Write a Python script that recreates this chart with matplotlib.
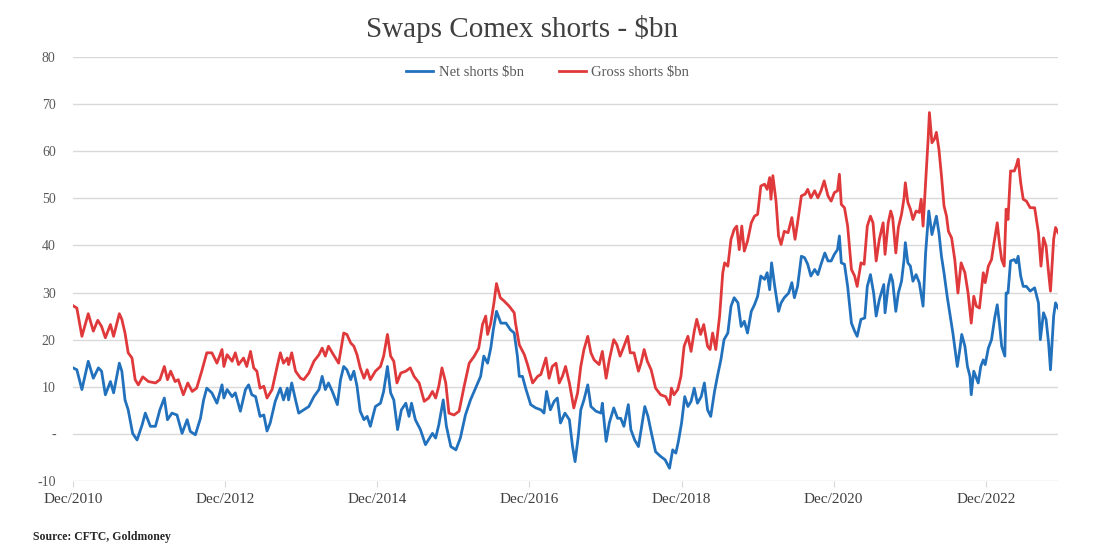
import matplotlib
matplotlib.use("Agg")
import matplotlib.pyplot as plt

# months since Dec/2010 and values ($bn)
net_t = [0.0, 0.6, 1.4, 2.4, 3.2, 4.0, 4.5, 5.1, 5.9, 6.4, 7.3, 7.7, 8.2, 8.7, 9.4, 10.1,
         10.9, 11.4, 12.2, 13.0, 13.7, 14.4, 14.9, 15.6, 16.4, 17.2, 18.0, 18.5, 19.3, 20.1,
         20.6, 21.1, 21.9, 22.7, 23.5, 23.8, 24.3, 25.1, 25.6, 26.4, 27.2, 27.7, 28.2, 28.8,
         29.5, 30.1, 30.6, 31.1, 31.9, 32.7, 33.2, 33.8, 34.0, 34.5, 35.1, 35.6, 36.4, 37.2,
         38.0, 38.8, 39.3, 39.8, 40.3, 40.9, 41.7, 42.2, 42.7, 43.2, 43.8, 44.3, 44.8, 45.3,
         45.9, 46.4, 46.9, 47.7, 48.5, 49.0, 49.6, 50.1, 50.6, 51.2, 51.8, 52.5, 53.0, 53.4,
         54.0, 54.8, 55.6, 56.7, 57.2, 57.7, 58.4, 58.9, 59.6, 60.4, 61.1, 61.9, 62.7, 63.5,
         64.3, 64.8, 65.4, 65.9, 66.3, 66.8, 67.5, 68.3, 69.0, 69.6, 70.1, 70.4, 70.9, 71.4,
         72.2, 73.0, 73.8, 74.3, 74.7, 75.3, 75.9, 76.4, 76.9, 77.6, 78.3, 78.8, 79.2, 79.7,
         80.1, 80.6, 81.2, 81.7, 82.5, 83.3, 83.5, 84.1, 84.6, 85.3, 85.9, 86.4, 86.9, 87.6,
         88.0, 88.6, 89.2, 89.7, 90.2, 90.7, 91.3, 91.9, 92.7, 93.4, 94.1, 94.6, 95.1, 95.5,
         96.0, 96.5, 97.0, 97.5, 98.0, 98.5, 99.1, 99.6, 100.1, 100.6, 101.2, 101.7, 102.2,
         102.7, 103.3, 103.8, 104.3, 104.9, 105.4, 105.9, 106.4, 107.0, 107.5, 108.0, 108.5,
         109.1, 109.5, 109.9, 110.2, 110.7, 111.3, 111.7, 112.2, 112.9, 113.4, 113.8, 114.3,
         114.9, 115.4, 115.9, 116.4, 117.0, 117.5, 118.0, 118.6, 119.1, 119.6, 120.1, 120.6,
         120.9, 121.2, 121.7, 122.2, 122.8, 123.3, 123.7, 124.3, 124.9, 125.3, 125.8, 126.3,
         126.7, 127.2, 127.9, 128.1, 128.6, 129.0, 129.3, 129.8, 130.2, 130.7, 131.1, 131.3,
         131.7, 132.1, 132.5, 133.0, 133.5, 134.1, 134.5, 135.0, 135.5, 135.9, 136.2, 136.6,
         137.0, 137.4, 137.9, 138.3, 138.8, 139.5, 139.9, 140.2, 140.7, 141.1, 141.5, 141.7,
         142.1, 142.8, 143.2, 143.6, 143.9, 144.4, 144.9, 145.4, 145.8, 146.2, 146.5, 147.0,
         147.2, 147.5, 147.9, 148.5, 148.8, 149.1, 149.5, 149.9, 150.4, 151.0, 151.7, 152.3,
         152.6, 153.1, 153.5, 153.9, 154.2, 154.7, 155.0, 155.4]
net_v = [14.0, 13.6, 9.4, 15.4, 11.8, 14.0, 13.3, 8.3, 11.1, 8.7, 15.0, 13.3, 7.2, 5.1, 0.1, -1.3,
         1.9, 4.4, 1.6, 1.6, 5.1, 7.6, 3.0, 4.4, 4.0, 0.1, 3.0, 0.5, -0.2, 3.3,
         7.2, 9.7, 8.7, 6.5, 10.4, 7.6, 9.4, 7.9, 8.7, 4.8, 9.4, 10.4, 8.3, 7.9,
         3.7, 4.0, 0.6, 2.3, 6.9, 9.7, 7.2, 9.7, 7.2, 10.8, 7.2, 4.4, 5.1, 5.8,
         7.9, 9.4, 12.2, 9.4, 10.8, 9.0, 6.2, 11.5, 14.3, 13.6, 11.5, 13.3, 10.1, 4.8,
         3.0, 3.7, 1.6, 5.8, 6.5, 9.0, 14.3, 8.7, 7.2, 0.9, 5.1, 6.5, 3.7, 6.5,
         3.0, 0.9, -2.3, 0.1, -0.9, 1.9, 7.2, 1.6, -2.7, -3.4, -0.9, 4.0, 7.2, 9.7,
         12.2, 16.5, 15.0, 18.2, 22.1, 26.0, 23.5, 23.5, 22.1, 21.4, 16.5, 12.2, 12.2, 9.7,
         6.2, 5.5, 5.1, 4.4, 9.0, 5.1, 6.9, 7.6, 2.3, 4.4, 3.0, -2.7, -5.9, -0.6,
         5.1, 7.2, 10.4, 5.8, 4.8, 4.4, 6.5, -1.6, 2.3, 5.5, 3.3, 3.3, 1.6, 6.2,
         0.9, -1.3, -2.7, 1.6, 5.8, 3.7, -0.2, -3.8, -4.8, -5.5, -7.3, -3.4, -4.1, -1.6,
         2.3, 7.9, 5.8, 6.9, 9.7, 6.5, 7.9, 10.8, 5.1, 3.7, 9.0, 12.5, 15.7,
         20.0, 21.4, 27.1, 28.9, 27.8, 22.8, 23.9, 21.4, 26.0, 27.4, 29.2, 33.5,
         32.8, 34.2, 30.6, 36.3, 31.3, 26.0, 27.8, 28.9, 29.9, 32.1, 28.9, 31.3,
         37.7, 37.4, 36.0, 33.5, 34.9, 33.8, 36.0, 38.4, 36.7, 36.7, 38.1, 39.1,
         42.0, 36.3, 36.0, 31.3, 23.5, 21.8, 20.7, 24.3, 24.6, 31.3, 33.8, 29.9,
         25.0, 28.5, 31.7, 25.7, 31.3, 33.8, 32.4, 26.0, 29.9, 32.4, 37.0, 40.6,
         36.3, 35.6, 32.4, 33.8, 32.1, 27.1, 38.4, 47.3, 42.3, 44.5, 46.2, 42.7,
         37.7, 34.2, 29.2, 25.7, 21.4, 14.3, 17.9, 21.1, 18.6, 14.3, 12.2, 8.3,
         13.3, 10.8, 14.3, 15.7, 14.7, 18.2, 20.0, 24.6, 27.4, 22.8, 18.6, 16.5,
         29.9, 29.9, 36.7, 37.0, 36.3, 37.7, 33.5, 31.3, 31.3, 30.3, 31.0, 27.8,
         20.0, 25.7, 24.3, 19.3, 13.6, 25.0, 27.8, 26.7]

gross_t = [0.0, 0.6, 1.4, 2.4, 3.2, 3.9, 4.5, 5.1, 5.9, 6.4, 7.3, 7.7, 8.2, 8.7, 9.3, 9.8,
           10.3, 11.0, 11.9, 13.0, 13.7, 14.4, 14.9, 15.4, 16.1, 16.6, 17.4, 18.1, 18.8, 19.5,
           20.3, 21.1, 21.9, 22.7, 23.5, 23.8, 24.3, 25.1, 25.6, 26.1, 26.9, 27.4, 28.0, 28.5,
           29.0, 29.5, 30.1, 30.6, 31.4, 32.2, 32.7, 33.2, 33.8, 34.0, 34.5, 35.1, 35.9, 36.4,
           37.2, 38.0, 38.8, 39.3, 39.8, 40.3, 40.9, 41.4, 41.9, 42.7, 43.2, 43.8, 44.3, 44.8,
           45.3, 45.9, 46.4, 46.9, 47.7, 48.5, 49.0, 49.6, 50.1, 50.6, 51.1, 51.7, 52.5, 53.2,
           53.8, 54.6, 55.4, 56.1, 56.7, 57.2, 57.7, 58.2, 58.8, 59.3, 60.1, 60.9, 61.7, 62.5,
           63.3, 64.0, 64.6, 65.1, 65.4, 65.9, 66.4, 66.8, 67.4, 68.0, 68.8, 69.6, 69.8, 70.4,
           71.2, 71.7, 72.5, 73.3, 73.8, 74.6, 75.1, 75.6, 76.2, 76.7, 77.2, 77.7, 78.3, 79.0,
           79.6, 80.1, 80.6, 81.2, 81.7, 82.2, 83.0, 83.5, 84.1, 84.6, 85.3, 85.8, 86.3, 86.8,
           87.5, 87.9, 88.5, 89.2, 89.6, 90.1, 90.6, 91.2, 91.9, 92.7, 93.5, 94.1, 94.4, 94.8,
           95.4, 95.9, 96.4, 97.0, 97.5, 98.0, 98.4, 99.0, 99.5, 100.1, 100.5, 100.9, 101.4,
           102.0, 102.5, 102.8, 103.3, 103.8, 104.3, 104.7, 105.1, 105.5, 105.9, 106.4, 107.0,
           107.5, 108.0, 108.5, 109.1, 109.5, 109.9, 110.1, 110.4, 110.9, 111.3, 111.7, 112.2,
           112.8, 113.4, 113.9, 114.3, 114.9, 115.5, 115.9, 116.4, 117.0, 117.5, 118.0, 118.5,
           119.1, 119.6, 120.1, 120.6, 120.9, 121.2, 121.7, 122.2, 122.8, 123.3, 123.7, 124.3,
           124.8, 125.3, 125.8, 126.2, 126.7, 127.2, 127.8, 128.1, 128.6, 129.0, 129.3, 129.8,
           130.2, 130.7, 131.1, 131.3, 131.7, 132.1, 132.5, 133.0, 133.5, 133.8, 134.1, 134.5,
           134.9, 135.1, 135.5, 135.9, 136.2, 136.6, 137.0, 137.4, 137.8, 138.1, 138.6, 139.1,
           139.6, 140.1, 140.7, 141.2, 141.7, 142.1, 142.5, 143.0, 143.6, 143.9, 144.4, 144.9,
           145.3, 145.8, 146.2, 146.5, 146.9, 147.2, 147.5, 147.9, 148.5, 148.8, 149.1, 149.5,
           149.9, 150.4, 151.0, 151.7, 152.3, 152.7, 153.1, 153.5, 153.9, 154.2, 154.7, 155.0,
           155.4]
gross_v = [27.2, 26.7, 20.7, 25.5, 21.8, 24.1, 22.8, 20.4, 23.2, 20.7, 25.5, 24.3, 21.4, 17.2, 16.1, 11.5,
           10.4, 12.1, 11.1, 10.8, 11.5, 14.3, 11.5, 13.3, 11.1, 11.5, 8.3, 10.8, 9.0, 9.7,
           13.3, 17.2, 17.2, 15.0, 17.9, 14.3, 16.8, 15.4, 17.2, 14.7, 16.1, 14.3, 17.5, 14.0,
           13.3, 9.7, 10.1, 7.6, 9.4, 14.3, 17.2, 15.0, 16.1, 14.7, 17.2, 13.3, 11.8, 11.5,
           12.9, 15.4, 16.8, 18.2, 16.5, 18.6, 17.2, 16.1, 15.0, 21.4, 21.1, 19.3, 18.6, 16.8,
           14.0, 11.8, 13.6, 11.5, 13.3, 14.3, 16.5, 21.1, 16.5, 15.4, 10.8, 12.9, 13.3, 14.0,
           12.2, 10.8, 6.9, 7.6, 9.0, 7.6, 10.1, 14.0, 10.8, 4.4, 4.0, 4.8, 10.1, 15.0,
           16.5, 18.2, 23.2, 25.0, 21.1, 23.5, 27.8, 31.9, 28.9, 28.2, 27.1, 25.7, 23.5, 18.9,
           16.8, 14.7, 10.8, 12.2, 12.6, 16.1, 11.8, 14.3, 15.0, 10.8, 12.2, 14.3, 10.8, 5.5,
           8.7, 14.3, 17.9, 20.7, 17.2, 15.7, 14.7, 17.5, 11.8, 15.7, 20.0, 18.9, 16.5, 18.2,
           20.7, 17.2, 17.2, 13.3, 15.0, 17.9, 15.4, 13.6, 9.7, 8.3, 7.9, 6.2, 9.7, 8.3,
           9.4, 12.2, 18.6, 20.7, 17.5, 21.8, 24.3, 21.1, 23.2, 18.6, 17.9, 21.4, 17.9,
           25.0, 34.2, 36.3, 35.6, 41.3, 43.4, 44.1, 39.1, 44.1, 38.8, 40.9, 44.8,
           46.2, 46.6, 52.6, 53.0, 51.9, 54.4, 49.8, 54.8, 49.4, 42.0, 40.2, 43.0,
           42.7, 45.9, 41.3, 44.8, 50.5, 50.9, 51.9, 50.1, 51.6, 50.1, 51.6, 53.7,
           50.5, 49.4, 51.2, 51.6, 55.1, 48.7, 48.0, 44.1, 34.9, 33.5, 31.3, 36.3,
           36.0, 44.1, 46.2, 44.8, 36.7, 41.3, 44.8, 38.1, 44.8, 47.3, 45.9, 38.4,
           43.8, 46.6, 50.1, 53.3, 49.1, 47.7, 45.5, 47.3, 47.0, 49.8, 44.1, 53.3,
           62.6, 68.2, 61.8, 62.6, 64.0, 60.4, 54.8, 48.4, 46.2, 43.0, 41.6, 37.0,
           29.9, 36.3, 34.2, 29.9, 23.5, 29.2, 27.1, 26.7, 34.2, 32.1, 35.6, 37.0,
           40.6, 44.8, 39.9, 37.0, 35.6, 47.7, 45.5, 55.8, 55.8, 56.9, 58.3, 53.3,
           49.8, 49.4, 48.0, 48.0, 42.7, 35.6, 41.6, 39.9, 34.2, 30.3, 41.3, 43.8,
           42.7]

tick_months = [0, 24, 48, 72, 96, 120, 144]
tick_labels = ["Dec/2010", "Dec/2012", "Dec/2014", "Dec/2016", "Dec/2018", "Dec/2020", "Dec/2022"]
y_ticks = [-10, 0, 10, 20, 30, 40, 50, 60, 70, 80]
y_labels = ["-10", "-", "10", "20", "30", "40", "50", "60", "70", "80"]

plt.rcParams['font.family'] = ['Liberation Serif', 'DejaVu Serif']

fig = plt.figure(figsize=(11, 5.56), dpi=100)
ax = fig.add_axes([0.0664, 0.135, 0.8955, 0.7625])

ax.plot(net_t, net_v, color='#2271bd', lw=2.0, label='Net shorts $bn')
ax.plot(gross_t, gross_v, color='#e0393b', lw=2.0, label='Gross shorts $bn')

ax.set_xlim(0, 155.4)
ax.set_ylim(-10, 80)
ax.set_yticks(y_ticks)
ax.set_yticklabels(y_labels)
ax.set_xticks(tick_months)
ax.set_xticklabels(tick_labels)
ax.grid(axis='y', color='#d9d9d9', lw=1)
ax.set_axisbelow(True)
for s in ax.spines.values():
    s.set_visible(False)
ax.tick_params(axis='y', length=0, pad=12.5, labelsize=10, labelcolor='#595959')
ax.tick_params(axis='x', length=4, color='#d9d9d9', pad=5, labelsize=11, labelcolor='#404040')

ax.legend(loc='center', bbox_to_anchor=(0.4817, 0.963), ncol=2, frameon=False,
          fontsize=10.5, handlelength=1.85, handletextpad=0.4, columnspacing=2.4,
          labelcolor='#595959')

fig.text(0.475, 0.948, 'Swaps Comex shorts - $bn', ha='center', va='center',
         fontsize=21, color='#404040')
fig.text(0.03, 0.034, 'Source: CFTC, Goldmoney', ha='left', va='center',
         fontsize=8.5, fontweight='bold', color='#262626')

fig.savefig('out.png', dpi=100)
